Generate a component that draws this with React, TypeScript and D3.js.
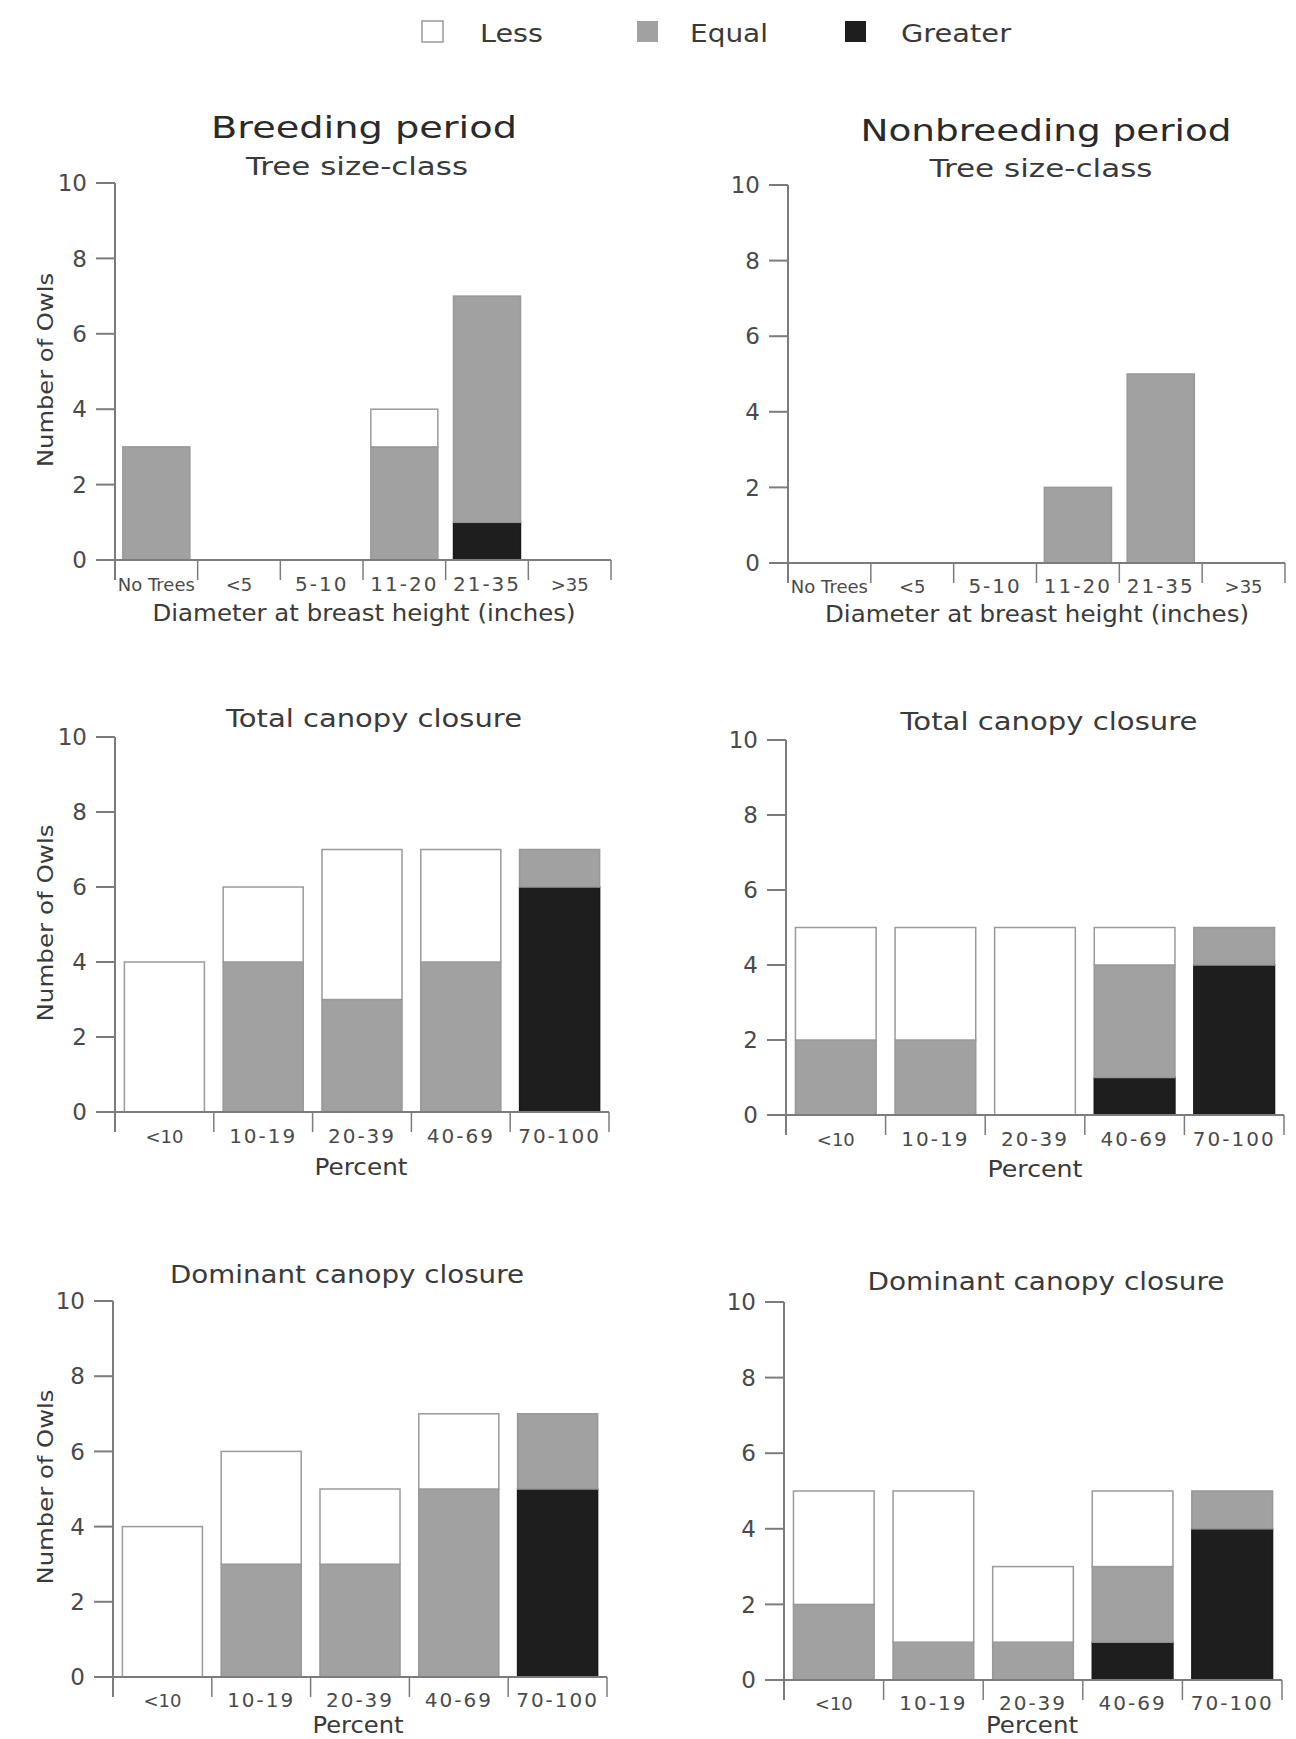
import React from "react";
import * as d3 from "d3";

// ---------- data ----------
const legendKeys = ["Less", "Equal", "Greater"];
const stackKeys = ["Greater", "Equal", "Less"];
const treeCategories = ["No Trees", "<5", "5-10", "11-20", "21-35", ">35"];
const canopyCategories = ["<10", "10-19", "20-39", "40-69", "70-100"];
const yTickValues = [0, 2, 4, 6, 8, 10];

const breedTreeLess = [0, 0, 0, 1, 0, 0];
const breedTreeEqual = [3, 0, 0, 3, 6, 0];
const breedTreeGreater = [0, 0, 0, 0, 1, 0];

const nonbreedTreeLess = [0, 0, 0, 0, 0, 0];
const nonbreedTreeEqual = [0, 0, 0, 2, 5, 0];
const nonbreedTreeGreater = [0, 0, 0, 0, 0, 0];

const breedTotalLess = [4, 2, 4, 3, 0];
const breedTotalEqual = [0, 4, 3, 4, 1];
const breedTotalGreater = [0, 0, 0, 0, 6];

const nonbreedTotalLess = [3, 3, 5, 1, 0];
const nonbreedTotalEqual = [2, 2, 0, 3, 1];
const nonbreedTotalGreater = [0, 0, 0, 1, 4];

const breedDomLess = [4, 3, 2, 2, 0];
const breedDomEqual = [0, 3, 3, 5, 2];
const breedDomGreater = [0, 0, 0, 0, 5];

const nonbreedDomLess = [3, 4, 2, 2, 0];
const nonbreedDomEqual = [2, 1, 1, 2, 1];
const nonbreedDomGreater = [0, 0, 0, 1, 4];

// ---------- styling ----------
const FONT = "'DejaVu Sans', Verdana, sans-serif";
const TEXT = "#3a3a3a";
const TICKTEXT = "#4a4a4a";
const AXIS = "#7c7c7c";
const FILL: Record<string, string> = { Less: "#ffffff", Equal: "#a1a1a1", Greater: "#1e1e1e" };

type Panel = {
  cats: string[];
  less: number[];
  equal: number[];
  greater: number[];
  x0: number; x1: number; y0: number; y10: number;
  title: string; titleX: number; titleY: number; titleW: number;
  xlab: string; xlabX: number; xlabY: number; xlabW: number;
  ylab: boolean; ylabY: number; ylabW: number;
  tickDy: number;
};

const panels: Panel[] = [
  {
    cats: treeCategories, less: breedTreeLess, equal: breedTreeEqual, greater: breedTreeGreater,
    x0: 115, x1: 611, y0: 560, y10: 183,
    title: "Tree size-class", titleX: 357, titleY: 175, titleW: 222,
    xlab: "Diameter at breast height (inches)", xlabX: 364, xlabY: 621, xlabW: 423,
    ylab: true, ylabY: 370, ylabW: 194, tickDy: 31,
  },
  {
    cats: treeCategories, less: nonbreedTreeLess, equal: nonbreedTreeEqual, greater: nonbreedTreeGreater,
    x0: 788, x1: 1285, y0: 563, y10: 185,
    title: "Tree size-class", titleX: 1041, titleY: 177, titleW: 223,
    xlab: "Diameter at breast height (inches)", xlabX: 1037, xlabY: 622, xlabW: 424,
    ylab: false, ylabY: 0, ylabW: 0, tickDy: 30,
  },
  {
    cats: canopyCategories, less: breedTotalLess, equal: breedTotalEqual, greater: breedTotalGreater,
    x0: 115, x1: 609, y0: 1112, y10: 737,
    title: "Total canopy closure", titleX: 374, titleY: 727, titleW: 296,
    xlab: "Percent", xlabX: 361, xlabY: 1175, xlabW: 93,
    ylab: true, ylabY: 923, ylabW: 197, tickDy: 31,
  },
  {
    cats: canopyCategories, less: nonbreedTotalLess, equal: nonbreedTotalEqual, greater: nonbreedTotalGreater,
    x0: 786, x1: 1284, y0: 1115, y10: 740,
    title: "Total canopy closure", titleX: 1049, titleY: 730, titleW: 297,
    xlab: "Percent", xlabX: 1035, xlabY: 1177, xlabW: 95,
    ylab: false, ylabY: 0, ylabW: 0, tickDy: 31,
  },
  {
    cats: canopyCategories, less: breedDomLess, equal: breedDomEqual, greater: breedDomGreater,
    x0: 113, x1: 607, y0: 1677, y10: 1301,
    title: "Dominant canopy closure", titleX: 347, titleY: 1283, titleW: 354,
    xlab: "Percent", xlabX: 358, xlabY: 1733, xlabW: 91,
    ylab: true, ylabY: 1487, ylabW: 195, tickDy: 30,
  },
  {
    cats: canopyCategories, less: nonbreedDomLess, equal: nonbreedDomEqual, greater: nonbreedDomGreater,
    x0: 784, x1: 1282, y0: 1680, y10: 1302,
    title: "Dominant canopy closure", titleX: 1046, titleY: 1290, titleW: 357,
    xlab: "Percent", xlabX: 1032, xlabY: 1733, xlabW: 92,
    ylab: false, ylabY: 0, ylabW: 0, tickDy: 30,
  },
];

function BarPanel({ p }: { p: Panel }) {
  const x = d3.scaleBand<string>().domain(p.cats).range([p.x0, p.x1]).paddingInner(0.19).paddingOuter(0.095);
  const y = d3.scaleLinear().domain([0, 10]).range([p.y0, p.y10]);
  const rows = p.cats.map((c, i) => ({ cat: c, Greater: p.greater[i], Equal: p.equal[i], Less: p.less[i] }));
  const series = d3.stack<any>().keys(stackKeys)(rows);
  const step = x.step();
  const seps = d3.range(p.cats.length + 1).map((i) => p.x0 + i * step);
  const tickLen = 19;
  const sepLen = 20;

  return (
    <g>
      {series.map((s) =>
        s.map((d, i) => {
          const v = d[1] - d[0];
          if (v <= 0) return null;
          const key = s.key;
          const top = y(d[1]);
          const h = y(d[0]) - y(d[1]);
          return (
            <rect
              key={key + i}
              x={x(p.cats[i])}
              y={top}
              width={x.bandwidth()}
              height={h}
              fill={FILL[key]}
              stroke={key === "Less" ? "#9a9a9a" : key === "Equal" ? "#979797" : "#1a1a1a"}
              strokeWidth={1.5}
            />
          );
        })
      )}
      {/* y axis */}
      <line x1={p.x0} x2={p.x0} y1={y(10)} y2={p.y0 + sepLen} stroke={AXIS} strokeWidth={2} />
      {yTickValues.map((t) => (
        <g key={t}>
          <line x1={p.x0 - tickLen} x2={p.x0} y1={y(t)} y2={y(t)} stroke={AXIS} strokeWidth={2} />
          <text
            x={p.x0 - 28}
            y={y(t)}
            dy="0.36em"
            textAnchor="end"
            fontFamily={FONT}
            fontSize={23}
            fill={TICKTEXT}
          >
            {t}
          </text>
        </g>
      ))}
      {/* x axis */}
      <line x1={p.x0 - tickLen} x2={p.x1} y1={p.y0} y2={p.y0} stroke={AXIS} strokeWidth={2} />
      {seps.map((sx, i) => (
        <line key={i} x1={sx} x2={sx} y1={p.y0} y2={p.y0 + sepLen} stroke={AXIS} strokeWidth={1.5} />
      ))}
      {p.cats.map((c) => {
        const numeric = /\d-\d/.test(c);
        return (
          <text
            key={c}
            x={(x(c) as number) + x.bandwidth() / 2}
            y={p.y0 + p.tickDy}
            textAnchor="middle"
            fontFamily={FONT}
            fontSize={numeric ? 20 : 18}
            letterSpacing={numeric ? 2 : 0}
            fill={TICKTEXT}
          >
            {c}
          </text>
        );
      })}
      {/* titles */}
      <text
        x={p.titleX}
        y={p.titleY}
        textAnchor="middle"
        fontFamily={FONT}
        fontSize={24}
        fill={TEXT}
        textLength={p.titleW}
        lengthAdjust="spacingAndGlyphs"
      >
        {p.title}
      </text>
      <text
        x={p.xlabX}
        y={p.xlabY}
        textAnchor="middle"
        fontFamily={FONT}
        fontSize={23}
        fill={TEXT}
        textLength={p.xlabW}
        lengthAdjust="spacingAndGlyphs"
      >
        {p.xlab}
      </text>
      {p.ylab && (
        <text
          transform={`translate(53, ${p.ylabY}) rotate(-90)`}
          textAnchor="middle"
          fontFamily={FONT}
          fontSize={22}
          fill={TEXT}
          textLength={p.ylabW}
          lengthAdjust="spacingAndGlyphs"
        >
          Number of Owls
        </text>
      )}
    </g>
  );
}

const legendBoxX = [422, 637, 845];
const legendTextX = [480, 690, 901];
const legendTextW = [63, 78, 110];

export default function App() {
  return (
    <svg
      width={1296}
      height={1739}
      viewBox="0 0 1296 1739"
      style={{ position: "fixed", left: 0, top: 0, background: "#ffffff" }}
    >
      <rect x={0} y={0} width={1296} height={1739} fill="#ffffff" />
      {/* legend */}
      {legendKeys.map((k, i) => (
        <g key={k}>
          <rect
            x={legendBoxX[i]}
            y={21}
            width={21}
            height={21}
            fill={FILL[k]}
            stroke={k === "Less" ? "#9a9a9a" : "none"}
            strokeWidth={1.5}
          />
          <text
            x={legendTextX[i]}
            y={42}
            fontFamily={FONT}
            fontSize={25}
            fill={TEXT}
            textLength={legendTextW[i]}
            lengthAdjust="spacingAndGlyphs"
          >
            {k}
          </text>
        </g>
      ))}
      {/* period headers */}
      <text x={364} y={138} textAnchor="middle" fontFamily={FONT} fontSize={30} fill="#2a2a2a"
        textLength={306} lengthAdjust="spacingAndGlyphs">
        Breeding period
      </text>
      <text x={1046} y={141} textAnchor="middle" fontFamily={FONT} fontSize={30} fill="#2a2a2a"
        textLength={371} lengthAdjust="spacingAndGlyphs">
        Nonbreeding period
      </text>
      {panels.map((p, i) => (
        <BarPanel key={i} p={p} />
      ))}
    </svg>
  );
}
